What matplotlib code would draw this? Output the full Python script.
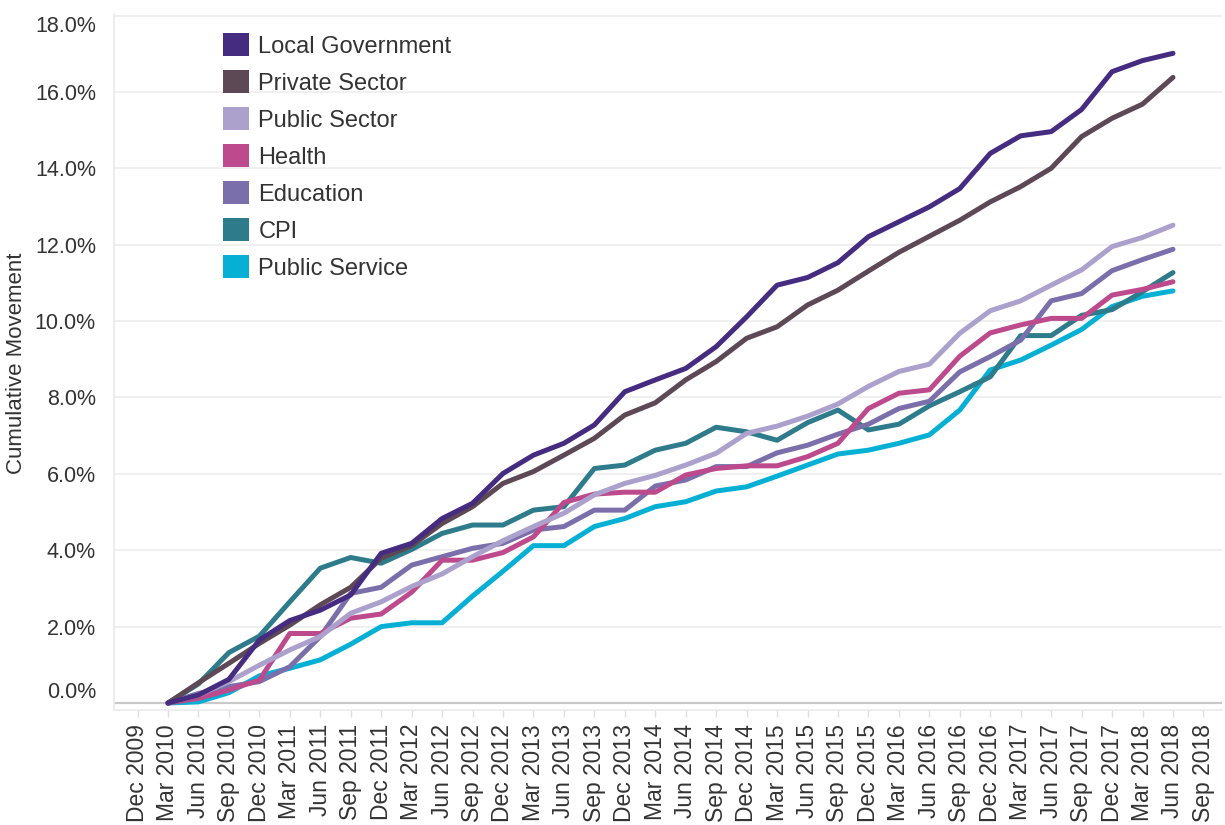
import matplotlib
matplotlib.use("Agg")
import matplotlib.pyplot as plt
from matplotlib.patches import Patch
from matplotlib.ticker import FuncFormatter, FixedLocator

plt.rcParams['font.family'] = ['Liberation Sans', 'DejaVu Sans']

# Quarter labels (axis ticks) and data quarters
tick_labels = ["Dec 2009", "Mar 2010", "Jun 2010", "Sep 2010", "Dec 2010",
               "Mar 2011", "Jun 2011", "Sep 2011", "Dec 2011",
               "Mar 2012", "Jun 2012", "Sep 2012", "Dec 2012",
               "Mar 2013", "Jun 2013", "Sep 2013", "Dec 2013",
               "Mar 2014", "Jun 2014", "Sep 2014", "Dec 2014",
               "Mar 2015", "Jun 2015", "Sep 2015", "Dec 2015",
               "Mar 2016", "Jun 2016", "Sep 2016", "Dec 2016",
               "Mar 2017", "Jun 2017", "Sep 2017", "Dec 2017",
               "Mar 2018", "Jun 2018", "Sep 2018"]
quarters = tick_labels[1:35]  # Mar 2010 .. Jun 2018

local_government = [0, 0.21, 0.62, 1.65, 2.16, 2.43, 2.83, 3.92, 4.18, 4.83,
                    5.23, 6.01, 6.49, 6.80, 7.28, 8.15, 8.46, 8.76, 9.33, 10.11,
                    10.94, 11.14, 11.53, 12.21, 12.60, 12.99, 13.47, 14.39, 14.85, 14.96,
                    15.54, 16.53, 16.82, 17.01]
private_sector = [0, 0.53, 1.04, 1.56, 2.04, 2.57, 3.03, 3.79, 4.12, 4.70,
                  5.14, 5.75, 6.06, 6.49, 6.93, 7.54, 7.86, 8.46, 8.94, 9.55,
                  9.85, 10.42, 10.81, 11.31, 11.80, 12.22, 12.64, 13.12, 13.52, 14.00,
                  14.83, 15.31, 15.68, 16.38]
public_sector = [0, 0.21, 0.56, 0.99, 1.39, 1.74, 2.35, 2.65, 3.05, 3.38,
                 3.83, 4.25, 4.62, 4.97, 5.45, 5.75, 5.96, 6.23, 6.54, 7.06,
                 7.25, 7.51, 7.83, 8.29, 8.68, 8.87, 9.68, 10.27, 10.53, 10.94,
                 11.34, 11.95, 12.19, 12.51]
health = [0, 0.12, 0.34, 0.60, 1.82, 1.82, 2.22, 2.33, 2.90, 3.74,
          3.74, 3.94, 4.35, 5.25, 5.47, 5.52, 5.52, 5.97, 6.14, 6.21,
          6.21, 6.45, 6.80, 7.71, 8.11, 8.20, 9.08, 9.69, 9.90, 10.07,
          10.07, 10.68, 10.83, 11.03]
education = [0, 0.25, 0.43, 0.56, 0.95, 1.74, 2.87, 3.03, 3.61, 3.83,
             4.05, 4.18, 4.53, 4.62, 5.05, 5.05, 5.68, 5.84, 6.19, 6.19,
             6.55, 6.75, 7.04, 7.30, 7.71, 7.90, 8.67, 9.07, 9.50, 10.53,
             10.72, 11.32, 11.61, 11.88]
cpi = [0, 0.50, 1.32, 1.75, 2.65, 3.53, 3.81, 3.66, 4.02, 4.44,
       4.66, 4.66, 5.05, 5.14, 6.14, 6.23, 6.62, 6.80, 7.22, 7.10,
       6.88, 7.34, 7.67, 7.15, 7.30, 7.78, 8.15, 8.54, 9.62, 9.62,
       10.15, 10.30, 10.77, 11.27]
public_service = [0, 0.03, 0.27, 0.71, 0.91, 1.13, 1.54, 2.00, 2.10, 2.10,
                  2.80, 3.45, 4.12, 4.12, 4.62, 4.83, 5.14, 5.27, 5.55, 5.66,
                  5.94, 6.23, 6.52, 6.62, 6.80, 7.02, 7.67, 8.72, 8.98, 9.37,
                  9.78, 10.38, 10.65, 10.79]

series_names = ["Local Government", "Private Sector", "Public Sector", "Health",
                "Education", "CPI", "Public Service"]
series_values = [local_government, private_sector, public_sector, health,
                 education, cpi, public_service]
series_colors = ["#452C80", "#5C4955", "#ACA0CC", "#BC4A8C",
                 "#7B6FAB", "#2E7B8B", "#05B0D4"]

text_color = "#333333"

fig = plt.figure(figsize=(12.25, 8.25), dpi=100)
ax = fig.add_axes([114/1225, 115/825, 1108/1225, 696/825])

x_all = list(range(len(tick_labels)))
x_data = [tick_labels.index(q) for q in quarters]

# draw order: lower lines first, local government on top
draw_order = [5, 6, 4, 3, 2, 1, 0]
for k in draw_order:
    ax.plot(x_data, series_values[k], color=series_colors[k], lw=3.6,
            solid_capstyle='round', solid_joinstyle='round', zorder=3 + (6 - k) * 0.1)

ax.set_xlim(-0.773, 35.61)
ax.set_ylim(-0.183, 18.04)

ax.axhline(0, color="#c9c9c9", lw=1.6, zorder=2)

yticks = [0, 2, 4, 6, 8, 10, 12, 14, 16, 18]
ax.yaxis.set_major_locator(FixedLocator(yticks))
ax.yaxis.set_major_formatter(FuncFormatter(lambda v, p: f"{v:.1f}%"))
ax.set_xticks(x_all)
ax.set_xticklabels(tick_labels, rotation=90)

ax.grid(axis='y', color="#efefef", lw=1.3, zorder=0)
ax.set_axisbelow(True)

for s in ["top", "right"]:
    ax.spines[s].set_visible(False)
ax.spines["left"].set_color("#ebebeb")
ax.spines["bottom"].set_color("#ebebeb")
ax.spines["left"].set_linewidth(1.2)
ax.spines["bottom"].set_linewidth(1.2)

ax.tick_params(axis='y', length=0, pad=13, labelsize=15.5, labelcolor=text_color)
ax.tick_params(axis='x', length=5, width=1, color="#dddddd", pad=5,
               labelsize=16.5, labelcolor=text_color)

ticks_y = ax.yaxis.get_major_ticks()
ticks_y[0].label1.set_verticalalignment('bottom')
ticks_y[-1].label1.set_verticalalignment('top')

fig.text(17/1225, 1 - 363/825, "Cumulative Movement", rotation=90,
         ha='center', va='center', fontsize=16, color=text_color)

handles = [Patch(facecolor=c, edgecolor='none') for c in series_colors]
leg = ax.legend(handles, series_names, loc='upper left',
                bbox_to_anchor=(223/1225, 1 - 33/825), bbox_transform=fig.transFigure,
                frameon=False, fontsize=17, handlelength=1.12, handleheight=1.12,
                handletextpad=0.38, labelspacing=0.53, borderpad=0, borderaxespad=0)
for t in leg.get_texts():
    t.set_color(text_color)

fig.savefig("out.png", dpi=100)
